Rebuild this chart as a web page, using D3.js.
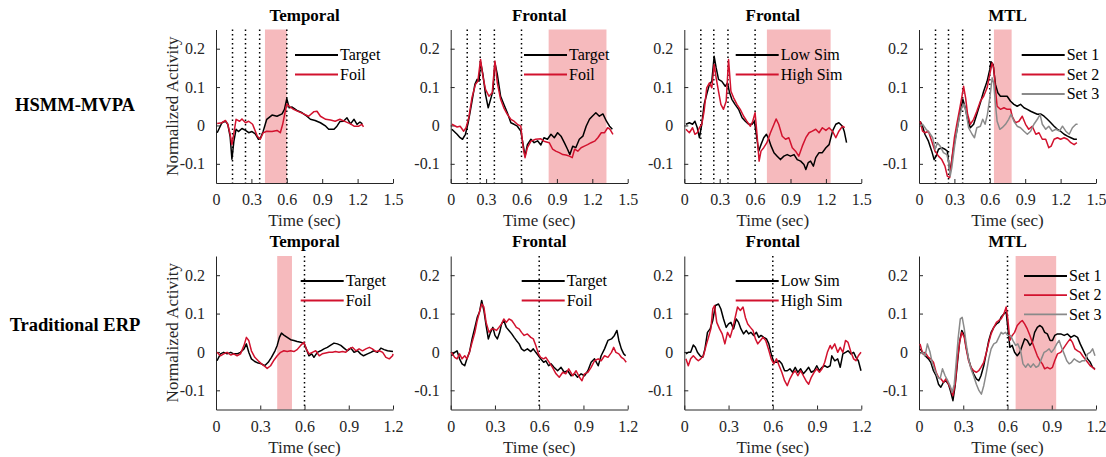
<!DOCTYPE html>
<html>
<head>
<meta charset="utf-8">
<script src="https://cdn.jsdelivr.net/npm/d3@7"></script>
<style>
body { margin: 0; background: #fff; }
svg { display: block; font-family: "Liberation Serif", "Times New Roman", serif; }
</style>
</head>
<body>
<svg></svg>
<script>
// ---- labels ----
const rowLabels = ["HSMM-MVPA", "Traditional ERP"];
const titles = ["Temporal", "Frontal", "Frontal", "MTL"];
const namesTF = ["Target", "Foil"];
const namesSim = ["Low Sim", "High Sim"];
const namesSet = ["Set 1", "Set 2", "Set 3"];
const xTicksHsmm = [0, 0.3, 0.6, 0.9, 1.2, 1.5];
const xTicksErp = [0, 0.3, 0.6, 0.9, 1.2];
const yTicks = [-0.1, 0, 0.1, 0.2];

// stage boundaries (dotted) and significant windows (shaded), in sec
const hsmmBounds = [0.14, 0.25, 0.37, 0.6];
const erpBounds = [0.6];
const hsmmShades = [[0.415, 0.6], [0.83, 1.32], [0.70, 1.24], [0.635, 0.785]];
const erpShades = [[0.415, 0.515], null, null, [0.655, 0.93]];

// ---- HSMM-MVPA series [time, activity] ----
const hsmmTemporalTarget = [[0.01,-0.019],[0.05,0.007],[0.08,0.011],[0.10,0.003],[0.12,-0.03],[0.135,-0.088],[0.152,-0.04],[0.17,-0.01],[0.19,-0.016],[0.22,-0.008],[0.25,-0.013],[0.277,-0.019],[0.305,-0.016],[0.333,-0.022],[0.36,-0.036],[0.375,-0.034],[0.40,-0.015],[0.43,0.016],[0.475,0.027],[0.517,0.024],[0.56,0.03],[0.58,0.042],[0.60,0.07],[0.62,0.046],[0.645,0.048],[0.686,0.039],[0.73,0.033],[0.77,0.024],[0.80,0.016],[0.84,0.013],[0.885,0.007],[0.93,-0.002],[0.955,-0.01],[1.0,-0.01],[1.025,-0.002],[1.05,0.01],[1.08,0.011],[1.11,0.02],[1.14,0.004],[1.17,0.016],[1.195,0.003],[1.22,0.009],[1.24,0.004]];
const hsmmTemporalFoil = [[0.01,0.005],[0.05,0.007],[0.08,0.013],[0.10,0.003],[0.12,-0.023],[0.135,-0.05],[0.15,-0.023],[0.17,0.016],[0.2,0.011],[0.22,0.017],[0.25,0.007],[0.277,0.011],[0.31,0.003],[0.35,-0.028],[0.375,-0.036],[0.40,-0.019],[0.43,-0.015],[0.475,-0.016],[0.517,-0.013],[0.545,-0.019],[0.565,0.003],[0.587,0.037],[0.60,0.056],[0.62,0.05],[0.657,0.042],[0.70,0.036],[0.743,0.03],[0.785,0.024],[0.83,0.036],[0.856,0.037],[0.885,0.024],[0.93,0.016],[0.97,0.014],[1.01,0.011],[1.05,0.016],[1.096,0.01],[1.14,0.004],[1.17,-0.002],[1.21,-0.002],[1.237,0.003],[1.25,-0.004]];
const hsmmFrontalTarget = [[0.01,-0.01],[0.054,-0.023],[0.08,-0.032],[0.10,-0.036],[0.125,-0.023],[0.148,0.007],[0.176,0.055],[0.205,0.107],[0.224,0.12],[0.24,0.115],[0.253,0.165],[0.273,0.133],[0.295,0.081],[0.318,0.046],[0.338,0.068],[0.358,0.09],[0.375,0.163],[0.395,0.133],[0.423,0.076],[0.45,0.055],[0.48,0.033],[0.51,0.007],[0.537,0.003],[0.565,-0.002],[0.594,-0.015],[0.614,-0.05],[0.63,-0.08],[0.65,-0.05],[0.68,-0.036],[0.707,-0.045],[0.736,-0.04],[0.764,-0.051],[0.79,-0.032],[0.82,-0.036],[0.85,-0.023],[0.878,-0.032],[0.906,-0.019],[0.935,-0.028],[0.963,-0.045],[0.99,-0.062],[1.01,-0.076],[1.034,-0.054],[1.06,-0.058],[1.09,-0.036],[1.12,-0.028],[1.148,-0.002],[1.176,0.016],[1.2,0.024],[1.23,0.033],[1.26,0.024],[1.29,0.03],[1.32,0.011],[1.346,-0.002],[1.37,-0.01]];
const hsmmFrontalFoil = [[0.01,0.003],[0.054,-0.004],[0.08,-0.002],[0.11,-0.015],[0.13,-0.006],[0.153,0.02],[0.18,0.072],[0.21,0.107],[0.23,0.115],[0.253,0.172],[0.273,0.128],[0.295,0.094],[0.324,0.076],[0.352,0.085],[0.375,0.168],[0.395,0.111],[0.423,0.068],[0.45,0.046],[0.48,0.029],[0.51,0.016],[0.537,0.011],[0.565,0.003],[0.594,-0.002],[0.614,-0.058],[0.63,-0.084],[0.65,-0.058],[0.68,-0.041],[0.72,-0.036],[0.764,-0.035],[0.79,-0.041],[0.835,-0.045],[0.864,-0.062],[0.89,-0.067],[0.92,-0.071],[0.95,-0.076],[0.977,-0.077],[1.006,-0.08],[1.03,-0.084],[1.05,-0.062],[1.077,-0.067],[1.105,-0.058],[1.133,-0.054],[1.16,-0.05],[1.19,-0.045],[1.22,-0.041],[1.247,-0.032],[1.276,-0.019],[1.304,-0.019],[1.33,-0.006],[1.35,-0.01],[1.375,-0.023]];
const hsmmSimLow = [[0.014,0.003],[0.043,0.007],[0.07,0.003],[0.09,0.011],[0.11,-0.006],[0.128,-0.032],[0.148,0.003],[0.168,0.055],[0.19,0.081],[0.213,0.107],[0.233,0.115],[0.253,0.18],[0.27,0.15],[0.29,0.12],[0.318,0.115],[0.347,0.102],[0.366,0.111],[0.384,0.085],[0.403,0.068],[0.43,0.055],[0.46,0.042],[0.49,0.02],[0.517,0.011],[0.545,0.003],[0.574,0.003],[0.594,0.011],[0.61,-0.023],[0.63,-0.067],[0.65,-0.05],[0.673,-0.032],[0.696,-0.023],[0.716,-0.036],[0.736,-0.054],[0.76,-0.071],[0.787,-0.08],[0.815,-0.089],[0.844,-0.08],[0.872,-0.076],[0.9,-0.08],[0.93,-0.076],[0.957,-0.089],[0.986,-0.093],[1.014,-0.102],[1.03,-0.115],[1.05,-0.097],[1.07,-0.093],[1.094,-0.106],[1.114,-0.084],[1.142,-0.071],[1.17,-0.071],[1.2,-0.058],[1.227,-0.05],[1.256,-0.015],[1.284,0.003],[1.31,0.007],[1.34,-0.002],[1.355,-0.015],[1.375,-0.045]];
const hsmmSimHigh = [[0.014,-0.01],[0.043,-0.019],[0.07,-0.006],[0.09,-0.023],[0.11,-0.019],[0.128,-0.006],[0.148,0.003],[0.168,0.037],[0.19,0.098],[0.213,0.111],[0.233,0.098],[0.253,0.159],[0.27,0.124],[0.29,0.089],[0.31,0.055],[0.332,0.042],[0.355,0.063],[0.375,0.172],[0.395,0.089],[0.418,0.072],[0.446,0.055],[0.474,0.042],[0.503,0.024],[0.53,0.011],[0.56,-0.002],[0.58,0.011],[0.6,0.033],[0.616,-0.023],[0.634,-0.093],[0.65,-0.067],[0.673,-0.058],[0.7,-0.045],[0.73,-0.019],[0.76,0.003],[0.778,0.017],[0.8,0.003],[0.83,-0.028],[0.858,-0.036],[0.886,-0.032],[0.915,-0.058],[0.943,-0.067],[0.97,-0.08],[1.0,-0.054],[1.03,-0.032],[1.057,-0.019],[1.085,-0.015],[1.114,-0.01],[1.142,-0.019],[1.17,-0.006],[1.2,-0.013],[1.227,-0.006],[1.256,-0.015],[1.284,-0.032],[1.31,-0.015],[1.34,-0.002],[1.36,-0.006]];
const hsmmMtlSet1 = [[0.01,0.011],[0.03,-0.002],[0.05,-0.023],[0.08,-0.041],[0.108,-0.067],[0.128,-0.089],[0.145,-0.08],[0.165,-0.062],[0.193,-0.058],[0.22,-0.062],[0.24,-0.067],[0.26,-0.119],[0.273,-0.102],[0.293,-0.058],[0.32,-0.015],[0.35,0.037],[0.372,0.068],[0.392,0.046],[0.412,0.016],[0.435,-0.006],[0.463,0.003],[0.49,0.029],[0.52,0.059],[0.548,0.089],[0.577,0.115],[0.6,0.146],[0.61,0.166],[0.628,0.159],[0.648,0.107],[0.668,0.085],[0.69,0.076],[0.72,0.076],[0.747,0.076],[0.776,0.063],[0.804,0.055],[0.832,0.05],[0.86,0.055],[0.89,0.046],[0.918,0.042],[0.946,0.037],[0.974,0.033],[1.003,0.029],[1.03,0.03],[1.06,0.024],[1.088,0.016],[1.117,0.007],[1.145,-0.002],[1.173,-0.01],[1.2,-0.015],[1.23,-0.023],[1.258,-0.028],[1.287,-0.032],[1.315,-0.036],[1.338,-0.036]];
const hsmmMtlSet2 = [[0.01,0.011],[0.03,-0.015],[0.05,-0.019],[0.08,-0.015],[0.108,-0.041],[0.136,-0.067],[0.165,-0.08],[0.193,-0.089],[0.22,-0.106],[0.24,-0.132],[0.26,-0.136],[0.28,-0.084],[0.3,-0.032],[0.32,0.003],[0.344,0.042],[0.364,0.076],[0.378,0.102],[0.395,0.072],[0.412,0.029],[0.435,0.003],[0.463,0.016],[0.49,0.037],[0.52,0.063],[0.548,0.076],[0.577,0.098],[0.6,0.133],[0.62,0.163],[0.633,0.15],[0.648,0.094],[0.662,0.05],[0.69,0.042],[0.72,0.046],[0.747,0.042],[0.776,0.042],[0.79,0.024],[0.818,0.007],[0.847,0.011],[0.875,0.024],[0.903,0.003],[0.93,-0.01],[0.96,-0.002],[0.99,-0.023],[1.017,-0.019],[1.045,-0.036],[1.074,-0.036],[1.1,-0.058],[1.12,-0.054],[1.145,-0.036],[1.173,-0.032],[1.2,-0.036],[1.23,-0.032],[1.258,-0.036],[1.287,-0.045],[1.315,-0.05],[1.338,-0.045]];
const hsmmMtlSet3 = [[0.01,-0.002],[0.03,0.003],[0.06,-0.01],[0.088,-0.019],[0.116,-0.032],[0.136,-0.062],[0.156,-0.045],[0.18,-0.054],[0.207,-0.071],[0.236,-0.076],[0.25,-0.093],[0.264,-0.132],[0.278,-0.11],[0.3,-0.058],[0.32,-0.015],[0.344,0.024],[0.366,0.05],[0.383,0.055],[0.4,0.033],[0.42,-0.006],[0.45,-0.023],[0.47,-0.032],[0.49,-0.006],[0.52,-0.002],[0.54,0.016],[0.56,0.003],[0.58,0.029],[0.6,0.072],[0.62,0.124],[0.633,0.111],[0.648,0.055],[0.662,0.011],[0.685,-0.01],[0.705,-0.006],[0.733,0.003],[0.76,0.016],[0.78,0.029],[0.804,0.011],[0.832,-0.002],[0.86,-0.006],[0.89,-0.015],[0.918,-0.023],[0.946,-0.015],[0.974,0.003],[1.003,0.016],[1.026,0.029],[1.045,0.003],[1.074,-0.01],[1.1,-0.002],[1.13,-0.015],[1.16,-0.01],[1.19,-0.015],[1.216,-0.002],[1.244,-0.015],[1.273,-0.023],[1.3,-0.006],[1.33,0.003],[1.344,0.003]];

// ---- Traditional ERP series [time, activity] ----
const erpTemporalTarget = [[0.007,-0.023],[0.03,-0.005],[0.052,-0.001],[0.075,-0.005],[0.1,-0.001],[0.12,-0.005],[0.143,-0.005],[0.166,-0.001],[0.19,0.008],[0.206,0.021],[0.222,-0.001],[0.24,-0.018],[0.263,-0.025],[0.286,-0.029],[0.308,-0.031],[0.33,-0.036],[0.354,-0.027],[0.376,-0.014],[0.4,0.003],[0.415,0.017],[0.43,0.038],[0.444,0.049],[0.46,0.044],[0.483,0.038],[0.506,0.032],[0.528,0.03],[0.55,0.027],[0.574,0.025],[0.596,0.023],[0.612,0.008],[0.63,-0.01],[0.649,-0.005],[0.664,-0.014],[0.687,-0.001],[0.71,0.003],[0.732,0.008],[0.755,0.012],[0.778,0.018],[0.8,0.023],[0.823,0.021],[0.846,0.017],[0.868,0.01],[0.89,0.003],[0.914,0.01],[0.936,-0.001],[0.96,0.003],[0.98,-0.005],[1.0,-0.01],[1.027,-0.005],[1.05,-0.001],[1.07,0.003],[1.095,-0.001],[1.118,0.01],[1.14,0.006],[1.163,0.003],[1.186,0.002],[1.2,0.001]];
const erpTemporalFoil = [[0.007,-0.001],[0.03,-0.01],[0.052,-0.005],[0.075,-0.001],[0.1,-0.008],[0.12,-0.005],[0.143,-0.01],[0.166,-0.005],[0.19,0.017],[0.206,0.038],[0.222,0.03],[0.24,0.003],[0.263,-0.014],[0.286,-0.023],[0.308,-0.031],[0.33,-0.037],[0.347,-0.043],[0.37,-0.036],[0.39,-0.023],[0.415,-0.01],[0.438,-0.001],[0.46,0.003],[0.483,0.001],[0.506,0.003],[0.528,0.001],[0.55,0.006],[0.574,0.017],[0.596,0.025],[0.612,0.008],[0.63,-0.005],[0.653,-0.001],[0.676,0.003],[0.7,-0.01],[0.72,-0.005],[0.744,-0.003],[0.766,-0.001],[0.79,-0.001],[0.81,0.001],[0.834,-0.001],[0.857,0.001],[0.88,-0.001],[0.9,0.008],[0.925,0.012],[0.948,0.003],[0.97,0.008],[0.993,0.003],[1.016,0.008],[1.04,0.012],[1.06,0.008],[1.084,0.001],[1.107,0.003],[1.13,-0.001],[1.152,-0.014],[1.175,-0.018],[1.197,-0.01],[1.2,-0.005]];
const erpFrontalTarget = [[0.005,-0.01],[0.027,-0.001],[0.043,0.003],[0.06,-0.018],[0.077,-0.031],[0.095,-0.036],[0.11,-0.018],[0.127,-0.001],[0.145,0.034],[0.164,0.064],[0.18,0.09],[0.195,0.104],[0.21,0.134],[0.225,0.108],[0.24,0.069],[0.255,0.034],[0.27,0.051],[0.286,0.064],[0.3,0.043],[0.316,0.034],[0.332,0.051],[0.345,0.073],[0.36,0.082],[0.377,0.064],[0.395,0.056],[0.414,0.047],[0.43,0.038],[0.445,0.03],[0.464,0.021],[0.48,0.008],[0.498,0.003],[0.52,0.008],[0.543,0.001],[0.56,0.008],[0.577,-0.001],[0.595,-0.01],[0.61,-0.018],[0.63,-0.027],[0.645,-0.023],[0.664,-0.036],[0.68,-0.031],[0.7,-0.04],[0.725,-0.049],[0.748,-0.04],[0.77,-0.053],[0.793,-0.049],[0.816,-0.062],[0.84,-0.057],[0.86,-0.066],[0.884,-0.057],[0.907,-0.062],[0.93,-0.049],[0.952,-0.027],[0.975,-0.018],[1.0,-0.036],[1.02,-0.01],[1.043,0.008],[1.066,0.03],[1.09,0.034],[1.11,0.043],[1.127,0.056],[1.14,0.03],[1.157,0.008],[1.173,-0.005],[1.186,-0.01]];
const erpFrontalFoil = [[0.005,-0.001],[0.027,-0.014],[0.043,-0.018],[0.06,-0.005],[0.077,-0.018],[0.095,-0.01],[0.11,-0.018],[0.127,-0.001],[0.145,0.025],[0.164,0.051],[0.18,0.082],[0.195,0.104],[0.21,0.125],[0.225,0.117],[0.24,0.077],[0.26,0.051],[0.277,0.06],[0.293,0.06],[0.31,0.056],[0.327,0.064],[0.345,0.073],[0.36,0.086],[0.377,0.077],[0.395,0.086],[0.414,0.082],[0.43,0.073],[0.445,0.064],[0.464,0.06],[0.48,0.051],[0.498,0.043],[0.52,0.047],[0.543,0.038],[0.56,0.034],[0.577,0.017],[0.595,-0.005],[0.61,-0.014],[0.63,-0.018],[0.645,-0.014],[0.668,-0.027],[0.69,-0.04],[0.714,-0.057],[0.736,-0.066],[0.76,-0.053],[0.78,-0.057],[0.8,-0.044],[0.827,-0.062],[0.85,-0.049],[0.873,-0.066],[0.89,-0.075],[0.907,-0.057],[0.93,-0.053],[0.952,-0.04],[0.975,-0.023],[1.0,-0.018],[1.02,-0.023],[1.043,-0.01],[1.066,-0.014],[1.09,-0.001],[1.105,0.012],[1.12,-0.001],[1.14,-0.005],[1.157,-0.014],[1.173,-0.018],[1.19,-0.027]];
const erpSimLow = [[0.011,-0.005],[0.027,-0.001],[0.043,-0.001],[0.061,0.018],[0.075,0.012],[0.089,-0.001],[0.107,-0.01],[0.125,-0.014],[0.14,0.008],[0.157,0.051],[0.175,0.06],[0.193,0.082],[0.211,0.121],[0.232,0.125],[0.248,0.112],[0.266,0.086],[0.284,0.064],[0.3,0.073],[0.316,0.077],[0.334,0.06],[0.352,0.086],[0.368,0.077],[0.384,0.06],[0.402,0.047],[0.42,0.056],[0.436,0.047],[0.452,0.051],[0.47,0.043],[0.489,0.051],[0.505,0.038],[0.52,0.043],[0.539,0.038],[0.557,0.034],[0.573,0.021],[0.589,-0.005],[0.607,-0.027],[0.625,-0.027],[0.643,-0.023],[0.661,-0.031],[0.68,-0.049],[0.698,-0.049],[0.716,-0.044],[0.734,-0.053],[0.752,-0.04],[0.77,-0.053],[0.789,-0.044],[0.807,-0.057],[0.825,-0.049],[0.843,-0.04],[0.861,-0.053],[0.88,-0.049],[0.898,-0.036],[0.916,-0.049],[0.934,-0.04],[0.952,-0.036],[0.97,-0.04],[0.989,-0.036],[1.0,-0.01],[1.02,-0.023],[1.04,-0.018],[1.057,-0.04],[1.075,-0.005],[1.093,-0.001],[1.11,0.003],[1.13,-0.005],[1.148,-0.001],[1.164,-0.014],[1.18,-0.023],[1.198,-0.049]];
const erpSimHigh = [[0.011,-0.018],[0.027,-0.036],[0.043,-0.018],[0.061,-0.01],[0.08,-0.018],[0.095,-0.023],[0.111,-0.018],[0.13,-0.01],[0.148,0.017],[0.164,0.038],[0.18,0.06],[0.193,0.112],[0.205,0.121],[0.22,0.077],[0.239,0.06],[0.257,0.047],[0.275,0.021],[0.293,0.051],[0.311,0.038],[0.33,0.064],[0.348,0.095],[0.361,0.117],[0.38,0.108],[0.398,0.117],[0.414,0.09],[0.43,0.073],[0.448,0.064],[0.466,0.056],[0.482,0.034],[0.498,0.021],[0.516,0.03],[0.534,0.038],[0.552,0.03],[0.57,0.008],[0.589,-0.018],[0.607,-0.031],[0.625,-0.018],[0.643,-0.036],[0.661,-0.053],[0.68,-0.075],[0.698,-0.088],[0.716,-0.07],[0.734,-0.057],[0.752,-0.049],[0.77,-0.062],[0.789,-0.049],[0.807,-0.062],[0.825,-0.075],[0.843,-0.084],[0.861,-0.066],[0.88,-0.053],[0.898,-0.044],[0.916,-0.053],[0.934,-0.044],[0.952,-0.027],[0.97,-0.001],[0.989,0.017],[1.0,0.008],[1.02,0.021],[1.04,-0.001],[1.057,0.012],[1.075,-0.001],[1.093,0.03],[1.11,0.025],[1.13,-0.001],[1.148,-0.018],[1.164,-0.023],[1.18,-0.01],[1.198,-0.001]];
const erpMtlSet1 = [[0.007,0.008],[0.025,-0.001],[0.041,-0.01],[0.064,-0.018],[0.08,-0.027],[0.098,-0.049],[0.116,-0.062],[0.132,-0.084],[0.148,-0.092],[0.166,-0.079],[0.182,-0.075],[0.2,-0.084],[0.216,-0.105],[0.23,-0.127],[0.245,-0.088],[0.261,-0.027],[0.275,0.025],[0.29,0.056],[0.307,0.043],[0.32,0.012],[0.336,-0.018],[0.352,-0.04],[0.37,-0.057],[0.389,-0.07],[0.405,-0.075],[0.42,-0.062],[0.439,-0.036],[0.457,-0.001],[0.473,0.03],[0.489,0.051],[0.507,0.064],[0.525,0.073],[0.541,0.077],[0.557,0.091],[0.575,0.099],[0.591,0.104],[0.602,0.064],[0.616,0.012],[0.632,0.017],[0.648,-0.001],[0.666,-0.01],[0.684,-0.001],[0.7,0.017],[0.716,0.034],[0.734,0.03],[0.752,0.017],[0.768,0.025],[0.784,0.051],[0.802,0.064],[0.82,0.069],[0.836,0.064],[0.852,0.051],[0.87,0.047],[0.889,0.03],[0.905,0.03],[0.92,0.043],[0.939,0.047],[0.961,0.047],[0.984,0.043],[1.007,0.047],[1.03,0.038],[1.052,0.043],[1.075,0.038],[1.093,0.021],[1.109,0.008],[1.125,-0.005],[1.143,-0.018],[1.161,-0.027],[1.177,-0.04],[1.193,-0.044]];
const erpMtlSet2 = [[0.007,0.021],[0.025,-0.005],[0.041,-0.001],[0.064,-0.014],[0.08,-0.018],[0.098,-0.027],[0.116,-0.053],[0.132,-0.066],[0.148,-0.07],[0.166,-0.079],[0.182,-0.07],[0.2,-0.084],[0.216,-0.097],[0.23,-0.114],[0.245,-0.084],[0.261,-0.018],[0.275,0.025],[0.29,0.051],[0.307,0.038],[0.32,0.008],[0.336,-0.023],[0.352,-0.04],[0.37,-0.049],[0.389,-0.053],[0.405,-0.049],[0.42,-0.04],[0.439,-0.027],[0.457,-0.001],[0.473,0.025],[0.489,0.047],[0.507,0.064],[0.525,0.077],[0.541,0.082],[0.557,0.086],[0.575,0.099],[0.591,0.117],[0.602,0.086],[0.616,0.03],[0.632,0.043],[0.648,0.051],[0.666,0.069],[0.684,0.077],[0.7,0.082],[0.716,0.073],[0.734,0.06],[0.752,0.043],[0.768,0.025],[0.784,0.008],[0.802,-0.01],[0.82,-0.023],[0.836,-0.031],[0.852,-0.044],[0.87,-0.04],[0.889,-0.044],[0.905,-0.04],[0.92,-0.023],[0.939,-0.005],[0.961,-0.001],[0.984,0.012],[1.007,0.025],[1.025,0.034],[1.04,0.025],[1.057,0.008],[1.075,0.003],[1.093,-0.001],[1.109,-0.01],[1.125,-0.018],[1.143,-0.027],[1.161,-0.036],[1.177,-0.04],[1.193,-0.046]];
const erpMtlSet3 = [[0.007,-0.005],[0.025,-0.001],[0.041,-0.01],[0.057,0.021],[0.075,-0.001],[0.091,-0.031],[0.109,-0.049],[0.127,-0.066],[0.143,-0.07],[0.159,-0.044],[0.177,-0.062],[0.195,-0.075],[0.211,-0.088],[0.225,-0.105],[0.239,-0.084],[0.252,-0.027],[0.266,0.038],[0.28,0.086],[0.293,0.09],[0.307,0.06],[0.32,0.021],[0.336,-0.018],[0.352,-0.044],[0.37,-0.062],[0.389,-0.084],[0.407,-0.101],[0.423,-0.11],[0.439,-0.088],[0.457,-0.053],[0.473,-0.018],[0.489,0.008],[0.507,0.021],[0.525,0.025],[0.541,0.038],[0.557,0.051],[0.57,0.047],[0.586,0.051],[0.602,0.043],[0.62,0.043],[0.636,0.03],[0.655,0.017],[0.67,0.021],[0.689,0.003],[0.705,-0.031],[0.723,-0.04],[0.739,-0.031],[0.757,-0.04],[0.775,-0.031],[0.793,-0.04],[0.811,-0.036],[0.83,-0.018],[0.848,-0.001],[0.866,0.003],[0.882,0.008],[0.898,-0.001],[0.916,0.008],[0.934,0.021],[0.95,0.03],[0.966,0.012],[0.984,-0.005],[1.002,-0.023],[1.018,-0.031],[1.034,-0.027],[1.052,-0.018],[1.07,-0.023],[1.089,-0.027],[1.107,-0.023],[1.125,-0.023],[1.143,-0.005],[1.161,-0.001],[1.177,0.008],[1.193,-0.01]];

const black = "#000000", red = "#d2122e", gray = "#8a8a8a";

const w = 1106;
const h = 457;
const svg = d3.select("svg").attr("width", w).attr("height", h);

// layout
const colLeft = [216, 450.7, 684.3, 919];
const rowTop = [29.5, 256];
const pw = 177;
const ph = 153.5;

const panels = [
  { row: 0, col: 0, xMax: 1.5, ticks: xTicksHsmm, bounds: hsmmBounds, shade: hsmmShades[0], names: namesTF, series: [hsmmTemporalTarget, hsmmTemporalFoil], lx: 79, ly: 25.5 },
  { row: 0, col: 1, xMax: 1.5, ticks: xTicksHsmm, bounds: hsmmBounds, shade: hsmmShades[1], names: namesTF, series: [hsmmFrontalTarget, hsmmFrontalFoil], lx: 73.3, ly: 25.5 },
  { row: 0, col: 2, xMax: 1.5, ticks: xTicksHsmm, bounds: hsmmBounds, shade: hsmmShades[2], names: namesSim, series: [hsmmSimLow, hsmmSimHigh], lx: 51.4, ly: 25.5 },
  { row: 0, col: 3, xMax: 1.5, ticks: xTicksHsmm, bounds: hsmmBounds, shade: hsmmShades[3], names: namesSet, series: [hsmmMtlSet1, hsmmMtlSet2, hsmmMtlSet3], lx: 102.7, ly: 25.5 },
  { row: 1, col: 0, xMax: 1.2, ticks: xTicksErp, bounds: erpBounds, shade: erpShades[0], names: namesTF, series: [erpTemporalTarget, erpTemporalFoil], lx: 84.7, ly: 25 },
  { row: 1, col: 1, xMax: 1.2, ticks: xTicksErp, bounds: erpBounds, shade: erpShades[1], names: namesTF, series: [erpFrontalTarget, erpFrontalFoil], lx: 71, ly: 25 },
  { row: 1, col: 2, xMax: 1.2, ticks: xTicksErp, bounds: erpBounds, shade: erpShades[2], names: namesSim, series: [erpSimLow, erpSimHigh], lx: 51.4, ly: 25 },
  { row: 1, col: 3, xMax: 1.2, ticks: xTicksErp, bounds: erpBounds, shade: erpShades[3], names: namesSet, series: [erpMtlSet1, erpMtlSet2, erpMtlSet3], lx: 105, ly: 20, lgap: 19.2 }
];
const colors = [black, red, gray];
const fmt = d => d === 0 ? "0" : String(+d.toFixed(1));

panels.forEach(p => {
  const x0 = colLeft[p.col], y0 = rowTop[p.row];
  const g = svg.append("g").attr("transform", "translate(" + x0 + "," + y0 + ")");

  const x = d3.scaleLinear().domain([0, p.xMax]).range([0, pw]);
  const y = d3.scaleLinear().domain([-0.15, 0.25]).range([ph, 0]);

  // shaded window
  if (p.shade) {
    g.append("rect")
      .attr("x", x(p.shade[0]))
      .attr("y", 0)
      .attr("width", x(p.shade[1]) - x(p.shade[0]))
      .attr("height", ph)
      .attr("fill", "#f6babd");
  }

  // stage boundaries
  g.selectAll(".bound")
    .data(p.bounds)
    .enter()
    .append("line")
    .attr("x1", d => x(d)).attr("x2", d => x(d))
    .attr("y1", 0).attr("y2", ph)
    .attr("stroke", "#000")
    .attr("stroke-width", 1.5)
    .attr("stroke-dasharray", "1.5,3");

  // axes
  const xAxis = d3.axisBottom(x).tickValues(p.ticks).tickFormat(fmt).tickSizeInner(-4).tickSizeOuter(0).tickPadding(11);
  const yAxis = d3.axisLeft(y).tickValues(yTicks).tickFormat(fmt).tickSizeInner(-4).tickSizeOuter(0).tickPadding(11);
  const gx = g.append("g").attr("transform", "translate(0," + ph + ")").call(xAxis);
  const gy = g.append("g").call(yAxis);
  [gx, gy].forEach(a => {
    a.selectAll("path, line").attr("stroke", "#262626");
    a.selectAll("text").attr("fill", "#262626").style("font-family", "Liberation Serif").style("font-size", "16px");
  });

  // data lines
  const line = d3.line().x(d => x(d[0])).y(d => y(d[1]));
  p.series.forEach((s, i) => {
    g.append("path")
      .datum(s)
      .attr("d", line)
      .attr("fill", "none")
      .attr("stroke", colors[i])
      .attr("stroke-width", 1.5)
      .attr("stroke-linejoin", "round");
  });

  // legend
  const gap = p.lgap || 19.5;
  p.names.forEach((n, i) => {
    const ly = p.ly + i * gap;
    g.append("line")
      .attr("x1", p.lx).attr("x2", p.lx + 43)
      .attr("y1", ly).attr("y2", ly)
      .attr("stroke", colors[i]).attr("stroke-width", 1.8);
    g.append("text")
      .attr("x", p.lx + 45).attr("y", ly)
      .attr("dy", "0.33em")
      .style("font-size", "16px")
      .attr("fill", "#000")
      .text(n);
  });

  // title
  g.append("text")
    .attr("x", pw / 2).attr("y", -9)
    .attr("text-anchor", "middle")
    .style("font-size", "17px").style("font-weight", "bold")
    .text(titles[p.col]);

  // x label
  g.append("text")
    .attr("x", pw / 2).attr("y", ph + 43)
    .attr("text-anchor", "middle")
    .style("font-size", "17px")
    .attr("fill", "#262626")
    .text("Time (sec)");

  if (p.col === 0) {
    g.append("text")
      .attr("transform", "translate(-44," + (ph / 2) + ") rotate(-90)")
      .attr("text-anchor", "middle")
      .attr("dy", "0.33em")
      .style("font-size", "17px")
      .attr("fill", "#262626")
      .text("Normalized Activity");
  }
});

// row labels
svg.selectAll(".rowlab")
  .data(rowLabels)
  .enter()
  .append("text")
  .attr("x", 75)
  .attr("y", (d, i) => [105, 325][i])
  .attr("dy", "0.33em")
  .attr("text-anchor", "middle")
  .style("font-size", "18.5px")
  .style("font-weight", "bold")
  .text(d => d);
</script>
</body>
</html>
